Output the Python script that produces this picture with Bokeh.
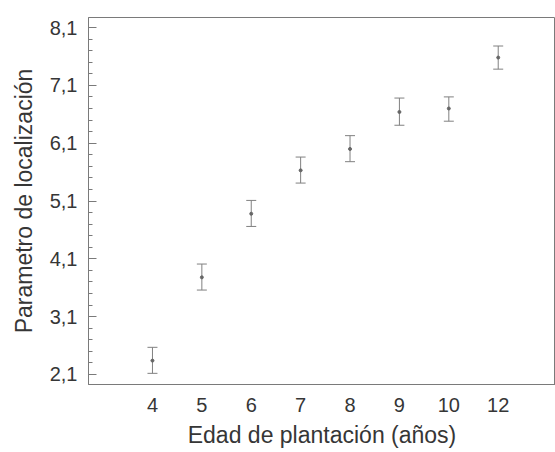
from bokeh.plotting import figure
from bokeh.models import (ColumnDataSource, Whisker, TeeHead, FixedTicker,
                          CustomJSTickFormatter, Range1d)
from bokeh.embed import file_html
from bokeh.resources import INLINE

categories = ["4", "5", "6", "7", "8", "9", "10", "12"]
centers = [2.34, 3.78, 4.88, 5.63, 6.00, 6.64, 6.70, 7.58]
lowers = [2.12, 3.56, 4.66, 5.41, 5.78, 6.41, 6.48, 7.38]
uppers = [2.57, 4.01, 5.11, 5.86, 6.23, 6.88, 6.90, 7.78]
y_ticks = [2.1, 3.1, 4.1, 5.1, 6.1, 7.1, 8.1]
y_minor = [round(1.9 + 0.2 * i, 1) for i in range(33)]

xs = list(range(len(categories)))
src = ColumnDataSource(dict(x=xs, c=centers, lo=lowers, up=uppers))

GRAY = "#808080"
AXIS = "#7a7a7a"
TXT = "#363636"
FONT = "Liberation Sans"

p = figure(frame_width=467, frame_height=367, output_backend="svg",
           toolbar_location=None,
           x_range=Range1d(-1.295, 8.16), y_range=Range1d(1.927, 8.273),
           min_border_left=88, min_border_right=0, min_border_top=17,
           min_border_bottom=68)
p.xgrid.visible = False
p.ygrid.visible = False
p.outline_line_color = AXIS
p.background_fill_color = "white"

w = Whisker(base="x", lower="lo", upper="up", source=src, line_color=GRAY,
            line_width=1,
            upper_head=TeeHead(size=10, line_color=GRAY, line_width=1),
            lower_head=TeeHead(size=10, line_color=GRAY, line_width=1))
p.add_layout(w)
p.scatter("x", "c", source=src, size=3, color="#666666")

fmt = CustomJSTickFormatter(code="return tick.toFixed(1).replace('.', ',');")

ya = p.yaxis[0]
ya.ticker = FixedTicker(ticks=y_ticks, minor_ticks=y_minor)
ya.formatter = fmt
ya.axis_label = "Parametro de localización"
ya.axis_label_text_font = FONT
ya.axis_label_text_font_size = "23px"
ya.axis_label_text_font_style = "normal"
ya.axis_label_text_color = TXT
ya.axis_label_standoff = 10
ya.major_label_text_font = FONT
ya.major_label_text_font_size = "20px"
ya.major_label_text_color = TXT
ya.major_label_standoff = 11
ya.major_tick_in = 8
ya.major_tick_out = 0
ya.minor_tick_in = 4
ya.minor_tick_out = 0
ya.axis_line_color = AXIS
ya.major_tick_line_color = AXIS
ya.minor_tick_line_color = AXIS

xa = p.xaxis[0]
xa.ticker = FixedTicker(ticks=xs)
xa.major_label_overrides = {i: c for i, c in zip(xs, categories)}
xa.axis_label = "Edad de plantación (años)"
xa.axis_label_text_font = FONT
xa.axis_label_text_font_size = "23px"
xa.axis_label_text_font_style = "normal"
xa.axis_label_text_color = TXT
xa.axis_label_standoff = 7
xa.major_label_text_font = FONT
xa.major_label_text_font_size = "20px"
xa.major_label_text_color = TXT
xa.major_label_standoff = 13
xa.major_tick_in = 0
xa.major_tick_out = 0
xa.minor_tick_in = 0
xa.minor_tick_out = 0
xa.axis_line_color = AXIS

open("out.html", "w").write(file_html(p, INLINE))
